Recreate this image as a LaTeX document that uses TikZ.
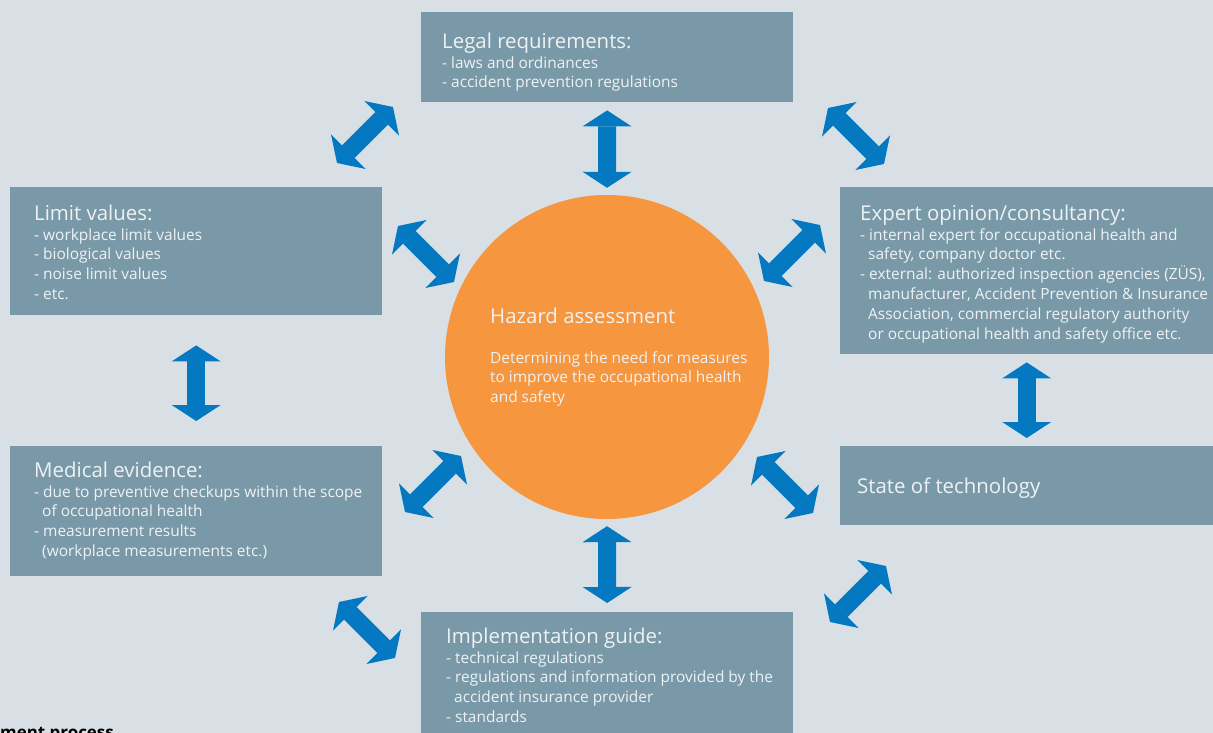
\documentclass[tikz,border=0pt]{standalone}
\usepackage{fontspec}
\setmainfont{Open Sans}
\usepackage{xcolor}
\usepackage{tikz}
\usetikzlibrary{arrows.meta}
\definecolor{bgblue}{HTML}{D8E0E6}
\definecolor{boxgray}{HTML}{7A99A8}
\definecolor{hazorange}{HTML}{F6963E}
\definecolor{arrblue}{HTML}{0479C1}
\definecolor{boxtext}{HTML}{EEF2F4}
\newcommand{\hd}[1]{{\fontsize{20.5}{20}\selectfont #1}}
\newcommand{\bodyfont}{\fontsize{15.5}{20}\selectfont}
\tikzset{
  box/.style={fill=boxgray,inner sep=0,anchor=north west},
  txt/.style={anchor=north west,inner sep=0,align=left,text=boxtext,font=\bodyfont},
  dbl/.style={line width=18bp,arrblue,>={Triangle[width=49bp,length=16bp,line width=0pt]},<->}
}
\begin{document}
\begin{tikzpicture}[x=1bp,y=-1bp]%[every node/.style={inner sep=0,outer sep=0}]
    \useasboundingbox (0,0) rectangle (1213,733);
    \clip (0,0) rectangle (1213,733);
    \fill[bgblue] (0,0) rectangle (1213,733);

    \node(legal)[box,minimum width=372bp,minimum height=90bp] at (421,12) {};
    \node(limit)[box,minimum width=372bp,minimum height=128bp] at (10,187) {};
    \node(expert)[box,minimum width=373bp,minimum height=167bp] at (840,187) {};
    \node(medical)[box,minimum width=372bp,minimum height=130bp] at (10,446) {};
    \node(state)[box,minimum width=373bp,minimum height=79bp] at (840,446) {};
    \node(impl)[box,minimum width=372bp,minimum height=140bp] at (421,612) {};
    \node(hazard)[circle,fill=hazorange,minimum size=324bp,inner sep=0] at (607,357) {};

    \node(legaltxt)[txt] at (442,32.4) {\hd{Legal requirements:}\\- laws and ordinances\\- accident prevention regulations};
    \node(limittxt)[txt] at (34,204.4) {\hd{Limit values:}\\- workplace limit values\\- biological values\\- noise limit values\\- etc.};
    \node(experttxt)[txt] at (860,204.4) {\hd{Expert opinion/consultancy:}\\- internal expert for occupational health and\\\hspace*{8bp}safety, company doctor etc.\\- external: authorized inspection agencies (ZÜS),\\\hspace*{8bp}manufacturer, Accident Prevention \& Insurance\\\hspace*{8bp}Association, commercial regulatory authority\\\hspace*{8bp}or occupational health and safety office etc.};
    \node(medicaltxt)[txt] at (34,461.4) {\hd{Medical evidence:}\\- due to preventive checkups within the scope\\\hspace*{8bp}of occupational health\\- measurement results\\\hspace*{8bp}(workplace measurements etc.)};
    \node(statetxt)[txt] at (857,477.4) {\hd{State of technology}};
    \node(impltxt)[txt] at (446,627.4) {\hd{Implementation guide:}\\- technical regulations\\- regulations and information provided by the\\\hspace*{8bp}accident insurance provider\\- standards};
    \node(hazardtxt)[txt] at (490,307.4) {\hd{Hazard assessment}\\[20bp]Determining the need for measures\\to improve the occupational health\\and safety};
    \node(caption)[anchor=base west,inner sep=0,text=black,font=\bfseries\fontsize{17}{20}\selectfont] at (0,738) {ment process};

    \draw[dbl,shorten <=8bp,shorten >=7bp] (legal.south) -- (hazard.north);
    \draw[dbl,shorten <=7bp,shorten >=9bp] (hazard.south) -- (impl.north);
    \draw[dbl,shorten <=30bp,shorten >=25bp] (limit.south) -- (medical.north);
    \draw[dbl,shorten <=8bp,shorten >=8bp] (expert.south) -- (state.north);

    % diagonal arrows between the boxes and round the circle
    \coordinate(leglim1) at (337,163); \coordinate(leglim2) at (393,107);
    \coordinate(legexp1) at (828,108); \coordinate(legexp2) at (884,164);
    \coordinate(limhaz1) at (398,226); \coordinate(limhaz2) at (454,282);
    \coordinate(exphaz1) at (820,225); \coordinate(exphaz2) at (764,281);
    \coordinate(medhaz1) at (461,456); \coordinate(medhaz2) at (405,512);
    \coordinate(stahaz1) at (757,457); \coordinate(stahaz2) at (813,513);
    \coordinate(medimp1) at (339,602); \coordinate(medimp2) at (395,658);
    \coordinate(staimp1) at (886,566); \coordinate(staimp2) at (830,622);
    \draw[dbl] (leglim1) -- (leglim2);
    \draw[dbl] (legexp1) -- (legexp2);
    \draw[dbl] (limhaz1) -- (limhaz2);
    \draw[dbl] (exphaz1) -- (exphaz2);
    \draw[dbl] (medhaz1) -- (medhaz2);
    \draw[dbl] (stahaz1) -- (stahaz2);
    \draw[dbl] (medimp1) -- (medimp2);
    \draw[dbl] (staimp1) -- (staimp2);
\end{tikzpicture}
\end{document}
